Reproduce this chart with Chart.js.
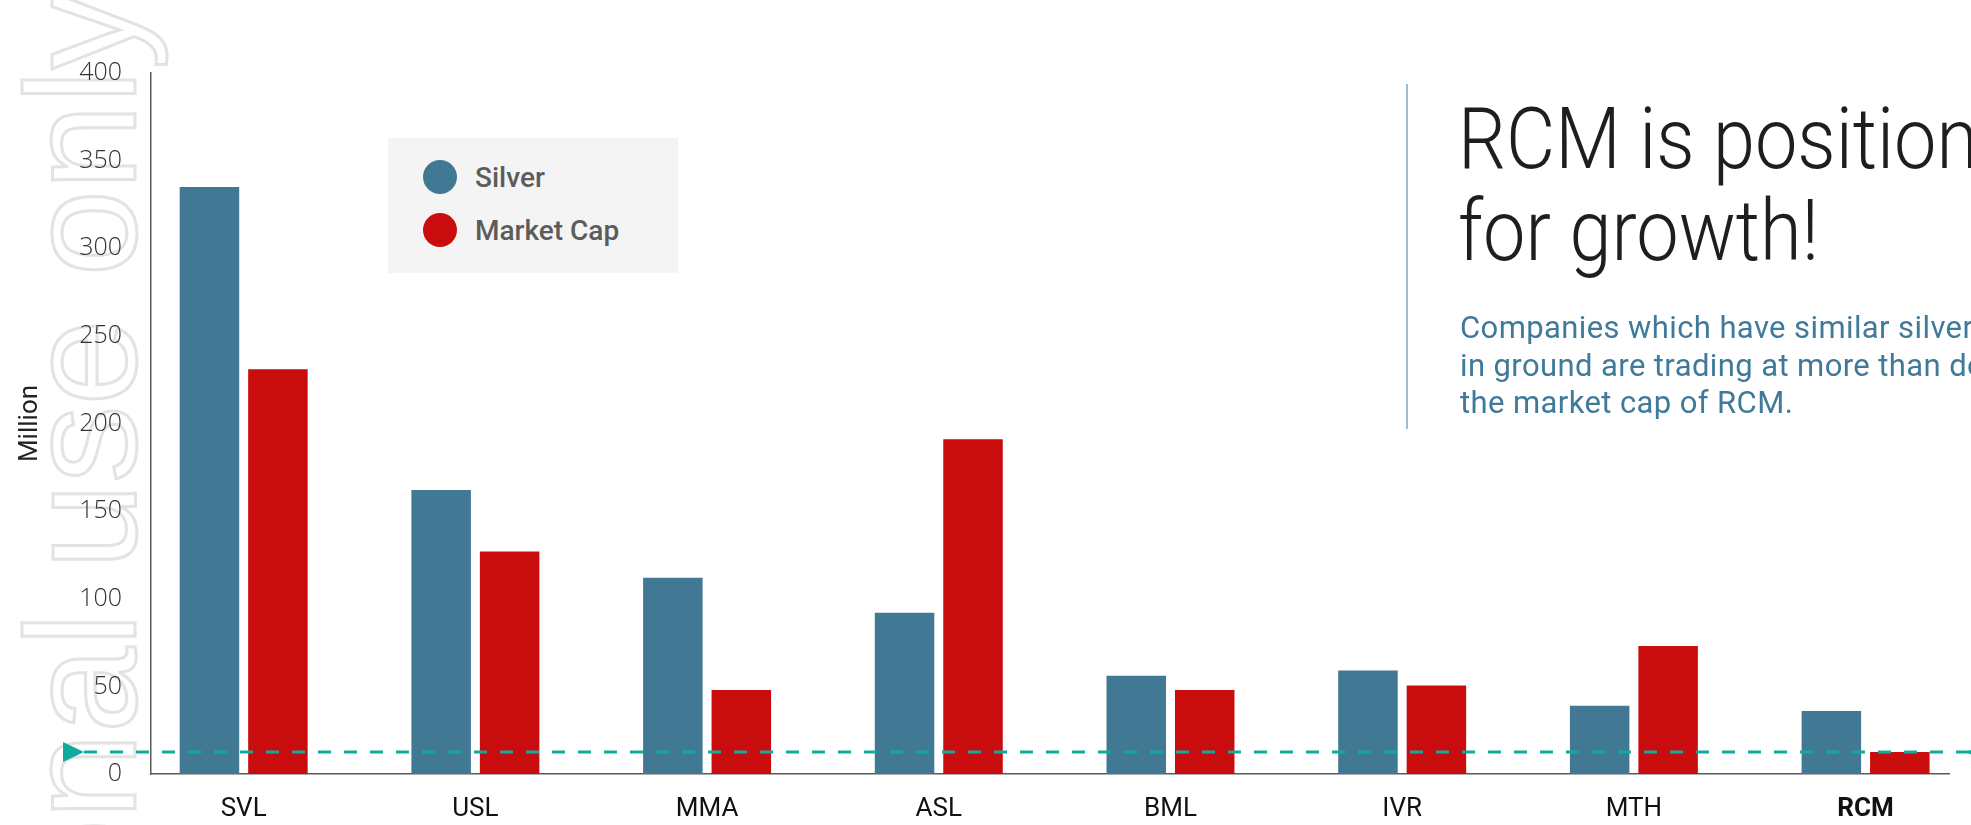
<!DOCTYPE html>
<html>
<head>
<meta charset="utf-8">
<script src="https://cdn.jsdelivr.net/npm/chart.js@4/dist/chart.umd.min.js"></script>
<style>
  html, body { margin:0; padding:0; background:#fff; }
  body { width:1971px; height:825px; overflow:hidden; position:relative; }
  #wm { position:absolute; left:4px; top:-8px; writing-mode:vertical-rl; transform:rotate(180deg);
        font-family:"Liberation Sans", Arial, sans-serif; font-size:155px; line-height:1; white-space:nowrap;
        color:transparent; -webkit-text-stroke:3px #e3e3e3; z-index:0; }
  #wrap { position:absolute; left:0; top:0; width:1971px; height:825px; z-index:1; }
  #legend { position:absolute; left:388px; top:138px; width:290px; height:135px; background:#f4f4f4; z-index:2; }
  .li { position:absolute; left:35px; height:34px; display:flex; align-items:center; }
  .dot { width:34px; height:34px; border-radius:50%; margin-right:18px; }
  .lt { font-family:Roboto, "Open Sans", sans-serif; font-weight:500; font-size:28px; color:#5c5c5c; }
  #vline { position:absolute; left:1406px; top:84px; width:2px; height:345px; background:#a3bccc; z-index:2; }
  #title { position:absolute; left:1458px; top:93px; font-family:Roboto, sans-serif; font-weight:300; font-size:86px;
           line-height:92px; color:#1e1e1e; white-space:nowrap; transform:scaleX(0.88); transform-origin:left top; z-index:2; }
  #sub { position:absolute; left:1460px; top:309px; font-family:Roboto, sans-serif; font-weight:400; font-size:31px;
         letter-spacing:0.4px; line-height:37.5px; color:#3f7a9b; white-space:nowrap; z-index:2; }
</style>
</head>
<body>
<div id="wm">For personal use only</div>
<div id="wrap"><canvas id="c" width="1971" height="825"></canvas></div>
<div id="legend"></div>
<div id="vline"></div>
<div id="title">RCM is positioned<br>for growth!</div>
<div id="sub">Companies which have similar silver<br>in ground are trading at more than double<br>the market cap of RCM.</div>
<script>
// ---- data ----
const categories = ['SVL', 'USL', 'MMA', 'ASL', 'BML', 'IVR', 'MTH', 'RCM'];
const silver     = [335, 162, 112, 92, 56, 59, 39, 36];
const marketCap  = [231, 127, 48, 191, 48, 50.5, 73, 12.5];
const yTicks     = [0, 50, 100, 150, 200, 250, 300, 350, 400];
const seriesNames  = ['Silver', 'Market Cap'];
const seriesColors = ['#417894', '#c90d0e'];
const highlight = 'RCM';

const refValue = marketCap[categories.indexOf(highlight)];

// legend (HTML)
const lg = document.getElementById('legend');
seriesNames.forEach((n, i) => {
  const d = document.createElement('div');
  d.className = 'li';
  d.style.top = (22 + i * 53) + 'px';
  d.innerHTML = '<span class="dot" style="background:' + seriesColors[i] + '"></span><span class="lt">' + n + '</span>';
  lg.appendChild(d);
});

const refLine = {
  id: 'refLine',
  afterDatasetsDraw(chart) {
    const ctx = chart.ctx;
    const y = chart.scales.y.getPixelForValue(refValue);
    ctx.save();
    ctx.strokeStyle = '#12aa9f';
    ctx.lineWidth = 3;
    ctx.setLineDash([13, 13]);
    ctx.beginPath();
    ctx.moveTo(84, y);
    ctx.lineTo(chart.width, y);
    ctx.stroke();
    ctx.setLineDash([]);
    ctx.fillStyle = '#12aa9f';
    ctx.beginPath();
    ctx.moveTo(63, y - 10); ctx.lineTo(63, y + 10); ctx.lineTo(84, y); ctx.closePath();
    ctx.fill();
    ctx.beginPath();
    ctx.moveTo(1966, y); ctx.lineTo(1987, y - 10); ctx.lineTo(1987, y + 10); ctx.closePath();
    ctx.fill();
    ctx.restore();
  }
};

new Chart(document.getElementById('c'), {
  type: 'bar',
  data: {
    datasets: [
      { label: seriesNames[0], backgroundColor: seriesColors[0], data: silver.map((v, i) => ({ x: i, y: v })) },
      { label: seriesNames[1], backgroundColor: seriesColors[1], data: marketCap.map((v, i) => ({ x: i, y: v })) }
    ]
  },
  options: {
    responsive: false,
    animation: false,
    devicePixelRatio: 1,
    categoryPercentage: 0.591,
    barPercentage: 0.869,
    layout: { padding: { left: 0, top: 73, right: 22, bottom: 0 } },
    plugins: { legend: { display: false }, tooltip: { enabled: false } },
    scales: {
      x: {
        type: 'linear',
        offset: false,
        min: -0.4, max: 7.36,
        grid: { display: false, drawTicks: false, offset: false },
        border: { display: true, color: '#5a5a5a', width: 1.5 },
        afterBuildTicks: (s) => { s.ticks = categories.map((c, i) => ({ value: i })); },
        afterFit: (s) => { s.height = 51; },
        ticks: {
          autoSkip: false, maxRotation: 0, padding: 20,
          color: '#111',
          font: (ctx) => ({ family: 'Roboto, sans-serif', size: 26,
                            weight: (ctx.tick && categories[ctx.tick.value] === highlight) ? 'bold' : 'normal' }),
          callback: (v) => categories[v]
        }
      },
      y: {
        min: 0, max: 400,
        grid: { display: false, drawTicks: false },
        border: { display: true, color: '#5a5a5a', width: 1.5 },
        afterBuildTicks: (s) => { s.ticks = yTicks.map(v => ({ value: v })); },
        afterFit: (s) => { s.width = 151; },
        ticks: { padding: 29, color: '#333', font: { family: '"Open Sans", sans-serif', size: 25, weight: '300' } },
        title: { display: true, text: 'Million', color: '#222', padding: { top: 15, bottom: 0 },
                 font: { family: 'Roboto, sans-serif', size: 26, weight: 'normal' } }
      }
    }
  },
  plugins: [refLine]
});
</script>
</body>
</html>
